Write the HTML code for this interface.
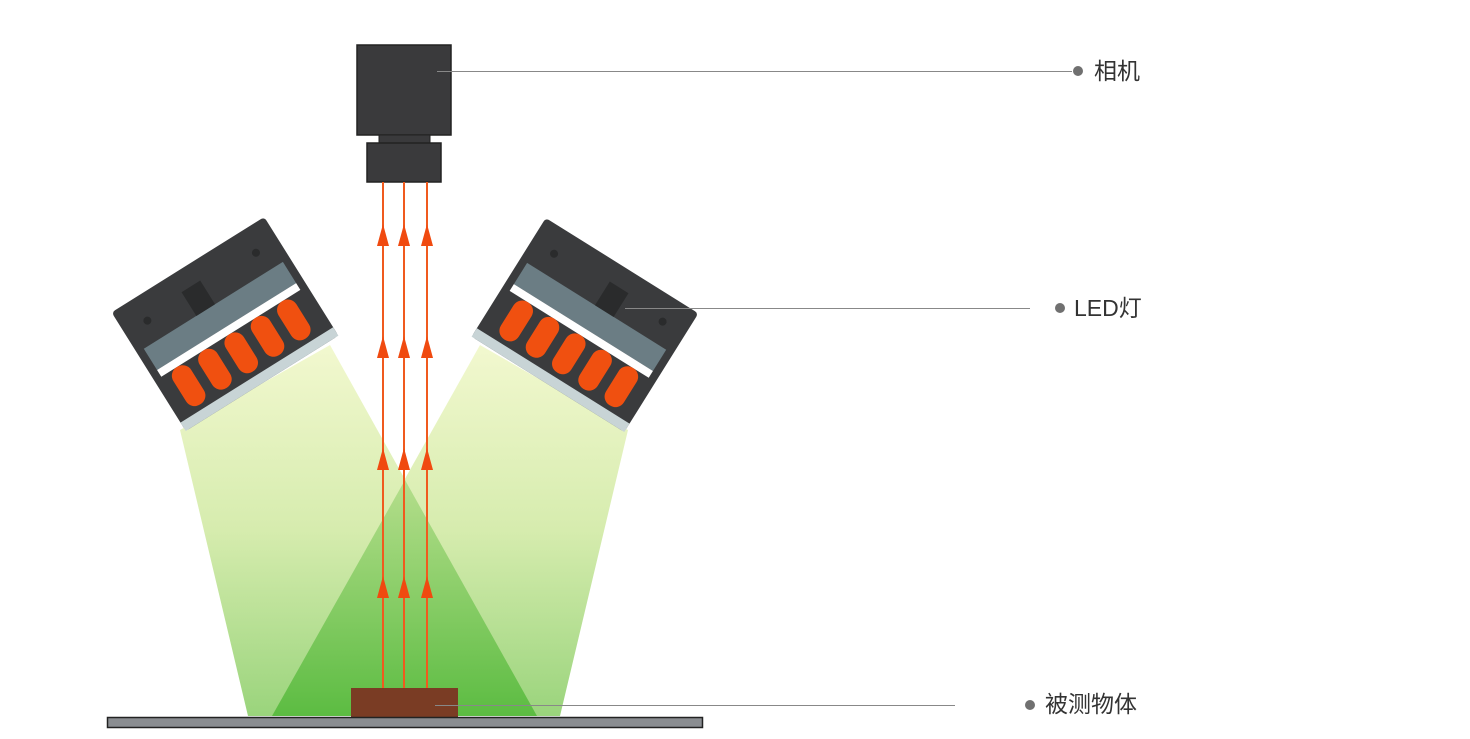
<!DOCTYPE html>
<html><head><meta charset="utf-8"><style>
html,body{margin:0;padding:0;background:#fff;}
body{width:1470px;height:739px;overflow:hidden;position:relative;}
.lbl{position:absolute;font-family:"Liberation Sans","Noto Sans CJK SC",sans-serif;font-size:23px;color:#333;line-height:1;}
</style></head><body>
<svg width="1470" height="739" viewBox="0 0 1470 739" style="position:absolute;left:0;top:0">
<defs>
<linearGradient id="bm" x1="0" y1="0" x2="0" y2="1" gradientUnits="objectBoundingBox">
<stop offset="0" stop-color="#f2f8cf"/><stop offset="0.5" stop-color="#d6ecae"/><stop offset="1" stop-color="#9ad47c"/></linearGradient>
<linearGradient id="ov" x1="0" y1="0" x2="0" y2="1">
<stop offset="0" stop-color="#b5de8c"/><stop offset="1" stop-color="#5cbc42"/></linearGradient>
<g id="lamp">
<rect x="-90" y="-70" width="180" height="140" rx="4" fill="#3a3b3d"/>
<rect x="-82" y="-22" width="164" height="25" fill="#6b7d84"/>
<rect x="-82" y="3" width="164" height="8" fill="#fff"/>
<rect x="-20" y="-50" width="22" height="28" fill="#2a2b2c"/>
<circle cx="-64" cy="-44" r="4" fill="#2a2b2c"/><circle cx="64" cy="-44" r="4" fill="#2a2b2c"/>
<g fill="#f05010">
<rect x="-74" y="11" width="21" height="44" rx="10"/>
<rect x="-43" y="11" width="21" height="44" rx="10"/>
<rect x="-12" y="11" width="21" height="44" rx="10"/>
<rect x="19" y="11" width="21" height="44" rx="10"/>
<rect x="50" y="11" width="21" height="44" rx="10"/>
</g>
<rect x="-90" y="60" width="180" height="10" fill="#c8d4d6"/>
</g>
</defs>
<polygon points="180,430 330,345 537,716 248,716" fill="url(#bm)"/>
<polygon points="480,345 628,430 560,716 272,716" fill="url(#bm)"/>
<polygon points="405,480 537,716 272,716" fill="url(#ov)"/>
<use href="#lamp" transform="translate(225,324) rotate(-32)"/>
<use href="#lamp" transform="translate(585,325) rotate(32) scale(-1,1)"/>
<rect x="357" y="45" width="94" height="90" fill="#3a3a3c" stroke="#222" stroke-width="1.5"/>
<rect x="379" y="135" width="51" height="9" fill="#3a3a3c" stroke="#222"/>
<rect x="367" y="143" width="74" height="39" fill="#3a3a3c" stroke="#222" stroke-width="1.5"/>
<g stroke="#f05a1e" stroke-width="2"><line x1="383" y1="182" x2="383" y2="688"/><line x1="404" y1="182" x2="404" y2="688"/><line x1="427" y1="182" x2="427" y2="688"/></g>
<g fill="#f04a10">
<g id="ar"><polygon points="383,224 377,246 389,246"/><polygon points="404,224 398,246 410,246"/><polygon points="427,224 421,246 433,246"/></g>
<use href="#ar" y="112"/><use href="#ar" y="224"/><use href="#ar" y="352"/>
</g>
<rect x="351" y="688" width="107" height="29" fill="#7a3c24"/>
<rect x="107.5" y="717.5" width="595" height="10" fill="#8a8d91" stroke="#222" stroke-width="1.5"/>
<g stroke="#888" stroke-width="1"><line x1="437" y1="71.5" x2="1072" y2="71.5"/><line x1="625" y1="308.5" x2="1030" y2="308.5"/><line x1="435" y1="705.5" x2="955" y2="705.5"/></g>
<g fill="#707070"><circle cx="1078" cy="71" r="5"/><circle cx="1060" cy="308" r="5"/><circle cx="1030" cy="705" r="5"/></g>
</svg>
<div class="lbl" style="left:1094px;top:60px">相机</div>
<div class="lbl" style="left:1074px;top:297px">LED灯</div>
<div class="lbl" style="left:1045px;top:693px">被测物体</div>
</body></html>
